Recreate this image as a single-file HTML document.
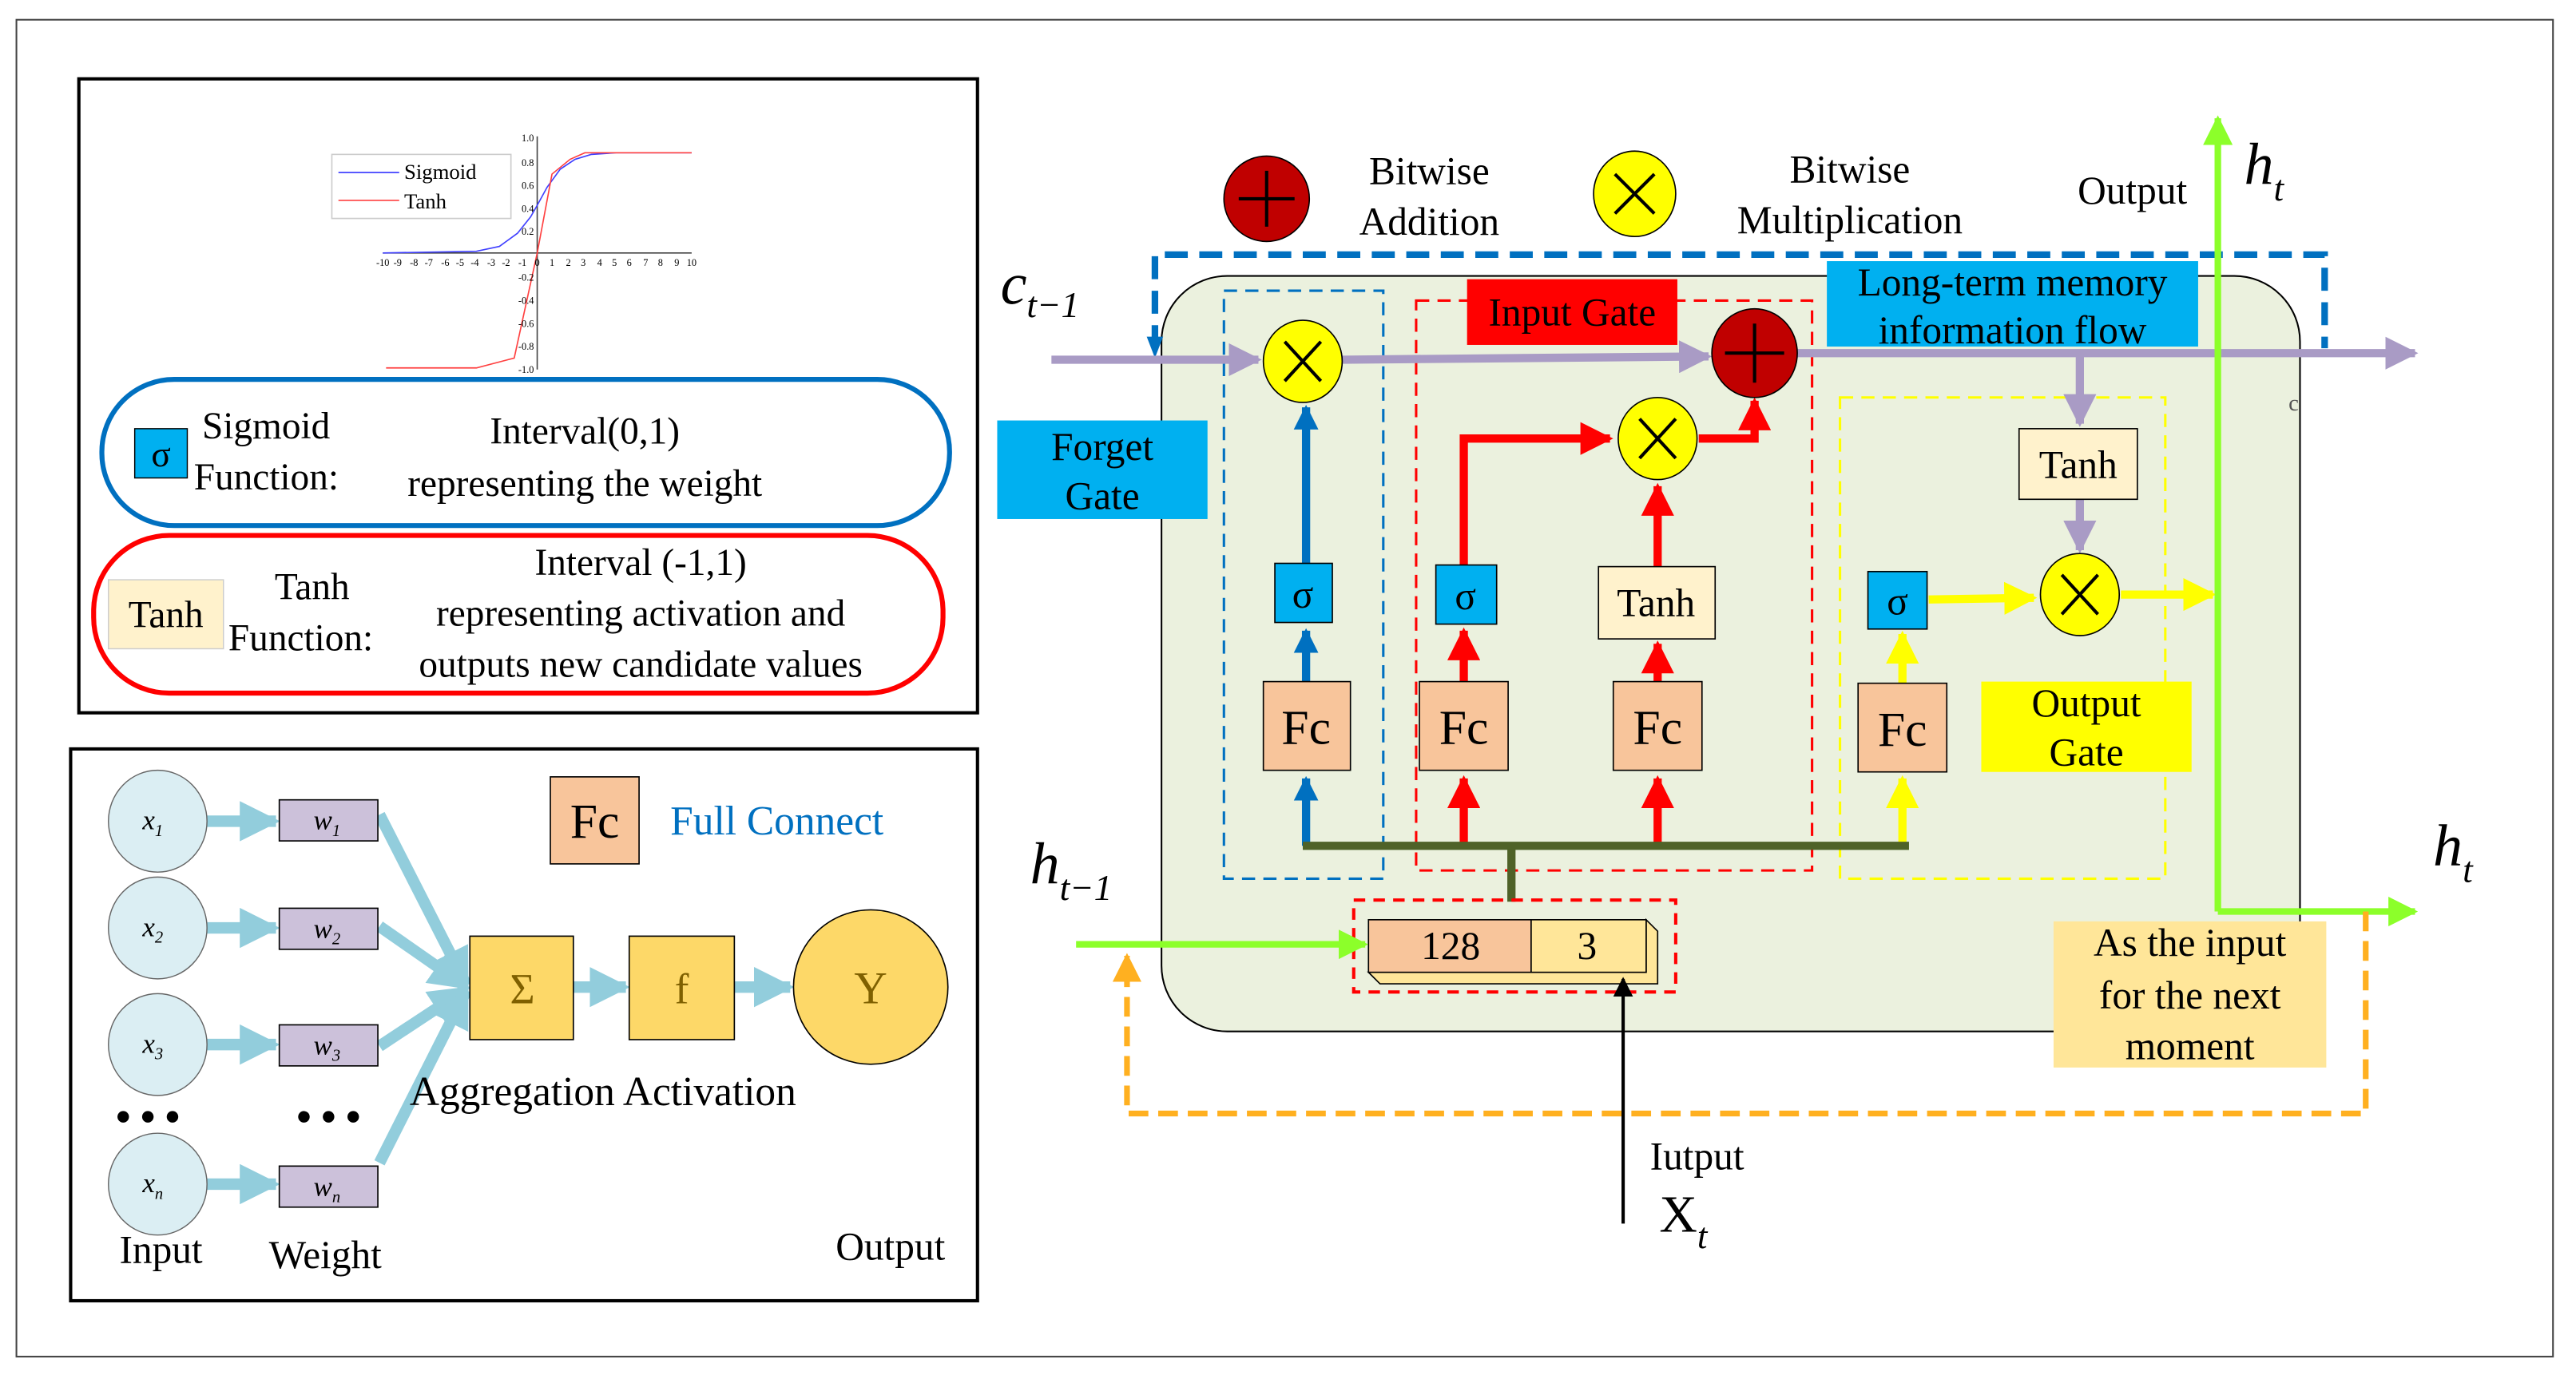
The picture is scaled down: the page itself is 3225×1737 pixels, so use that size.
<!DOCTYPE html>
<html><head><meta charset="utf-8"><style>
html,body{margin:0;padding:0;background:#fff}
svg{display:block}
text{font-family:"Liberation Serif",serif;fill:#000}
</style></head><body>
<svg width="3225" height="1737" viewBox="0 0 1568 844.5" xmlns="http://www.w3.org/2000/svg">
<defs>
<marker id="ar" viewBox="0 0 10 10" refX="9" refY="5" markerWidth="4" markerHeight="4" orient="auto" markerUnits="strokeWidth"><path d="M0,0L10,5L0,10z" fill="#ff0000"/></marker>
<marker id="ay" viewBox="0 0 10 10" refX="9" refY="5" markerWidth="4" markerHeight="4" orient="auto" markerUnits="strokeWidth"><path d="M0,0L10,5L0,10z" fill="#ffff00"/></marker>
<marker id="ap" viewBox="0 0 10 10" refX="9" refY="5" markerWidth="4" markerHeight="4" orient="auto" markerUnits="strokeWidth"><path d="M0,0L10,5L0,10z" fill="#a99bc5"/></marker>
<marker id="ag" viewBox="0 0 10 10" refX="9" refY="5" markerWidth="4.5" markerHeight="4.5" orient="auto" markerUnits="strokeWidth"><path d="M0,0L10,5L0,10z" fill="#8cff2a"/></marker>
<marker id="ao" viewBox="0 0 10 10" refX="9" refY="5" markerWidth="5" markerHeight="5" orient="auto" markerUnits="strokeWidth"><path d="M0,0L10,5L0,10z" fill="#ffb020"/></marker>
<marker id="ak" viewBox="0 0 10 10" refX="9" refY="5" markerWidth="6" markerHeight="6" orient="auto" markerUnits="strokeWidth"><path d="M0,0L10,5L0,10z" fill="#000"/></marker>
<marker id="al" viewBox="0 0 10 10" refX="9" refY="5" markerWidth="3.5" markerHeight="3.5" orient="auto" markerUnits="strokeWidth"><path d="M0,0L10,5L0,10z" fill="#92cddc"/></marker>
<marker id="ab2" viewBox="0 0 10 10" refX="9" refY="5" markerWidth="3" markerHeight="3" orient="auto" markerUnits="strokeWidth"><path d="M0,0L10,5L0,10z" fill="#0070c0"/></marker>
</defs>
<rect x="10" y="12" width="1544" height="814" fill="none" stroke="#444" stroke-width="1"/>

<rect x="48" y="48" width="547" height="386" fill="#fff" stroke="#000" stroke-width="2"/>
<g stroke-width="0.8" fill="none">
<rect x="202" y="94" width="109" height="39" stroke="#ccc"/>
<line x1="206" y1="105" x2="243" y2="105" stroke="#4040ff"/>
<line x1="206" y1="122" x2="243" y2="122" stroke="#ff4040"/>
<line x1="233" y1="154" x2="421" y2="154" stroke="#444"/>
<line x1="327" y1="83" x2="327" y2="225" stroke="#444"/>
<polyline points="233,154 290,153 304,150 315,142 323,132 327,125 333,114 341,103 350,97 360,94 375,93 421,93" stroke="#4040ff"/>
<polyline points="235,224 290,224 313,218 327,154 336,106 347,97 356,93 421,93" stroke="#ff4040"/>
</g>
<text x="246" y="109" font-size="13">Sigmoid</text>
<text x="246" y="127" font-size="13">Tanh</text>
<g font-size="6" fill="#555" text-anchor="middle">
<text x="233" y="162">-10</text><text x="242" y="162">-9</text><text x="252" y="162">-8</text><text x="261" y="162">-7</text><text x="271" y="162">-6</text><text x="280" y="162">-5</text><text x="289" y="162">-4</text><text x="299" y="162">-3</text><text x="308" y="162">-2</text><text x="318" y="162">-1</text><text x="327" y="162">0</text><text x="336" y="162">1</text><text x="346" y="162">2</text><text x="355" y="162">3</text><text x="365" y="162">4</text><text x="374" y="162">5</text><text x="383" y="162">6</text><text x="393" y="162">7</text><text x="402" y="162">8</text><text x="412" y="162">9</text><text x="421" y="162">10</text>
</g>
<g font-size="6" fill="#555" text-anchor="end">
<text x="325" y="86">1.0</text><text x="325" y="101">0.8</text><text x="325" y="115">0.6</text><text x="325" y="129">0.4</text><text x="325" y="143">0.2</text><text x="325" y="171">-0.2</text><text x="325" y="185">-0.4</text><text x="325" y="199">-0.6</text><text x="325" y="213">-0.8</text><text x="325" y="227">-1.0</text></g>

<rect x="62" y="231" width="516" height="89" rx="44" fill="none" stroke="#0070c0" stroke-width="3"/>
<rect x="82" y="261" width="32" height="30" fill="#00b0f0" stroke="#000" stroke-width="0.7"/>
<text x="98" y="284" font-size="22" text-anchor="middle">σ</text>
<text x="123" y="267" font-size="23">Sigmoid</text>
<text x="118" y="298" font-size="23">Function:</text>
<text x="356" y="270" font-size="23" text-anchor="middle">Interval(0,1)</text>
<text x="356" y="302" font-size="23" text-anchor="middle">representing the weight</text>

<rect x="57" y="326" width="517" height="96" rx="46" fill="none" stroke="#ff0000" stroke-width="3"/>
<rect x="66" y="353" width="70" height="42" fill="#fff2cc" stroke="#ccc" stroke-width="0.7"/>
<text x="101" y="382" font-size="23" text-anchor="middle">Tanh</text>
<text x="190" y="365" font-size="23" text-anchor="middle">Tanh</text>
<text x="139" y="396" font-size="23">Function:</text>
<text x="390" y="350" font-size="23" text-anchor="middle">Interval (-1,1)</text>
<text x="390" y="381" font-size="23" text-anchor="middle">representing activation and</text>
<text x="390" y="412" font-size="23" text-anchor="middle">outputs new candidate values</text>

<rect x="43" y="456" width="552" height="336" fill="#fff" stroke="#000" stroke-width="2"/>
<g stroke="#92cddc" stroke-width="7" fill="none">
<line x1="126" y1="500" x2="168" y2="500" marker-end="url(#al)"/>
<line x1="126" y1="565" x2="168" y2="565" marker-end="url(#al)"/>
<line x1="126" y1="636" x2="168" y2="636" marker-end="url(#al)"/>
<line x1="126" y1="721" x2="168" y2="721" marker-end="url(#al)"/>
<line x1="231" y1="496" x2="284" y2="600" marker-end="url(#al)"/>
<line x1="231" y1="564" x2="284" y2="601" marker-end="url(#al)"/>
<line x1="231" y1="637" x2="284" y2="602" marker-end="url(#al)"/>
<line x1="231" y1="708" x2="284" y2="603" marker-end="url(#al)"/>
<line x1="349" y1="601" x2="381" y2="601" marker-end="url(#al)"/>
<line x1="447" y1="601" x2="481" y2="601" marker-end="url(#al)"/>
</g>
<g fill="#dbeef3" stroke="#666" stroke-width="0.7">
<ellipse cx="96" cy="500" rx="30" ry="31"/><ellipse cx="96" cy="565" rx="30" ry="31"/><ellipse cx="96" cy="636" rx="30" ry="31"/><ellipse cx="96" cy="721" rx="30" ry="31"/>
</g>
<g fill="#ccc1da" stroke="#000" stroke-width="0.8">
<rect x="170" y="487" width="60" height="25"/><rect x="170" y="553" width="60" height="25"/><rect x="170" y="624" width="60" height="25"/><rect x="170" y="710" width="60" height="25"/>
</g>
<g font-size="17" font-style="italic" text-anchor="middle">
<text x="93" y="505">x<tspan font-size="10" dy="4">1</tspan></text>
<text x="93" y="570">x<tspan font-size="10" dy="4">2</tspan></text>
<text x="93" y="641">x<tspan font-size="10" dy="4">3</tspan></text>
<text x="93" y="726">x<tspan font-size="10" dy="4">n</tspan></text>
<text x="199" y="505">w<tspan font-size="10" dy="4">1</tspan></text>
<text x="199" y="571">w<tspan font-size="10" dy="4">2</tspan></text>
<text x="199" y="642">w<tspan font-size="10" dy="4">3</tspan></text>
<text x="199" y="728">w<tspan font-size="10" dy="4">n</tspan></text>
</g>
<g fill="#000"><circle cx="75" cy="680" r="3.5"/><circle cx="90" cy="680" r="3.5"/><circle cx="105" cy="680" r="3.5"/><circle cx="185" cy="680" r="3.5"/><circle cx="200" cy="680" r="3.5"/><circle cx="215" cy="680" r="3.5"/></g>
<rect x="286" y="570" width="63" height="63" fill="#fdd868" stroke="#000" stroke-width="0.8"/>
<rect x="383" y="570" width="64" height="63" fill="#fdd868" stroke="#000" stroke-width="0.8"/>
<ellipse cx="530" cy="601" rx="47" ry="47" fill="#fdd868" stroke="#000" stroke-width="0.8"/>
<text x="318" y="611" font-size="26" text-anchor="middle" style="fill:#7f6000">Σ</text>
<text x="415" y="611" font-size="26" text-anchor="middle" style="fill:#7f6000">f</text>
<text x="530" y="611" font-size="28" text-anchor="middle" style="fill:#7f6000">Y</text>
<rect x="335" y="473" width="54" height="53" fill="#f8c59b" stroke="#000" stroke-width="0.8"/>
<text x="362" y="510" font-size="30" text-anchor="middle">Fc</text>
<text x="408" y="508" font-size="25" style="fill:#0070c0">Full Connect</text>
<text x="367" y="673" font-size="25" text-anchor="middle">Aggregation Activation</text>
<text x="98" y="769" font-size="24" text-anchor="middle">Input</text>
<text x="198" y="772" font-size="24" text-anchor="middle">Weight</text>
<text x="542" y="767" font-size="24" text-anchor="middle">Output</text>

<rect x="707" y="168" width="693" height="460" rx="40" fill="#ebf1de" stroke="#000" stroke-width="1"/>
<path d="M703,212 V155 H1415 V212" fill="none" stroke="#0070c0" stroke-width="4" stroke-dasharray="14,7"/>
<path d="M703,205 L698,205 L703,218 L708,205z" fill="#0070c0"/>
<circle cx="771" cy="121" r="26" fill="#c00000" stroke="#000" stroke-width="0.8"/>
<path d="M771,104V138M754,121H788" stroke="#000" stroke-width="2"/>
<text x="870" y="112" font-size="24" text-anchor="middle">Bitwise</text>
<text x="870" y="143" font-size="24" text-anchor="middle">Addition</text>
<ellipse cx="995" cy="118" rx="25" ry="26" fill="#ffff00" stroke="#000" stroke-width="0.8"/>
<path d="M983,106L1007,130M1007,106L983,130" stroke="#000" stroke-width="2"/>
<text x="1126" y="111" font-size="24" text-anchor="middle">Bitwise</text>
<text x="1126" y="142" font-size="24" text-anchor="middle">Multiplication</text>
<text x="1298" y="124" font-size="24" text-anchor="middle">Output</text>
<text x="1366" y="112" font-size="36" font-style="italic">h<tspan font-size="22" dy="10">t</tspan></text>
<text x="609" y="185" font-size="36" font-style="italic">c<tspan font-size="22" dy="8">t−1</tspan></text>
<text x="1481" y="527" font-size="36" font-style="italic">h<tspan font-size="22" dy="10">t</tspan></text>
<text x="627" y="538" font-size="36" font-style="italic">h<tspan font-size="22" dy="10">t−1</tspan></text>

<rect x="745" y="177" width="97" height="358" fill="none" stroke="#0070c0" stroke-width="1.5" stroke-dasharray="8,5"/>
<rect x="862" y="183" width="241" height="347" fill="none" stroke="#ff0000" stroke-width="1.5" stroke-dasharray="8,5"/>
<rect x="1120" y="242" width="198" height="293" fill="none" stroke="#ffff00" stroke-width="1.5" stroke-dasharray="8,5"/>

<line x1="640" y1="219" x2="766" y2="219" stroke="#a99bc5" stroke-width="5" marker-end="url(#ap)"/>
<line x1="817" y1="219" x2="1040" y2="217" stroke="#a99bc5" stroke-width="5" marker-end="url(#ap)"/>
<line x1="1094" y1="215" x2="1470" y2="215" stroke="#a99bc5" stroke-width="5" marker-end="url(#ap)"/>
<line x1="1266" y1="215" x2="1266" y2="258" stroke="#a99bc5" stroke-width="5" marker-end="url(#ap)"/>
<line x1="1266" y1="304" x2="1266" y2="335" stroke="#a99bc5" stroke-width="5" marker-end="url(#ap)"/>

<rect x="607" y="256" width="128" height="60" fill="#00b0f0"/>
<text x="671" y="280" font-size="24" text-anchor="middle">Forget</text>
<text x="671" y="310" font-size="24" text-anchor="middle">Gate</text>
<rect x="893" y="170" width="128" height="40" fill="#ff0000"/>
<text x="957" y="198" font-size="24" text-anchor="middle">Input Gate</text>
<rect x="1112" y="159" width="226" height="52" fill="#00b0f0"/>
<text x="1225" y="180" font-size="24" text-anchor="middle">Long-term memory</text>
<text x="1225" y="209" font-size="24" text-anchor="middle">information flow</text>

<line x1="795" y1="515" x2="795" y2="474" stroke="#0070c0" stroke-width="5" marker-end="url(#ab2)"/>
<line x1="795" y1="415" x2="795" y2="384" stroke="#0070c0" stroke-width="5" marker-end="url(#ab2)"/>
<line x1="795" y1="343" x2="795" y2="248" stroke="#0070c0" stroke-width="5" marker-end="url(#ab2)"/>
<line x1="891" y1="515" x2="891" y2="474" stroke="#ff0000" stroke-width="5" marker-end="url(#ar)"/>
<line x1="891" y1="415" x2="891" y2="384" stroke="#ff0000" stroke-width="5" marker-end="url(#ar)"/>
<path d="M891,344 V267 H980" fill="none" stroke="#ff0000" stroke-width="5" marker-end="url(#ar)"/>
<line x1="1009" y1="515" x2="1009" y2="474" stroke="#ff0000" stroke-width="5" marker-end="url(#ar)"/>
<line x1="1009" y1="415" x2="1009" y2="392" stroke="#ff0000" stroke-width="5" marker-end="url(#ar)"/>
<line x1="1009" y1="345" x2="1009" y2="296" stroke="#ff0000" stroke-width="5" marker-end="url(#ar)"/>
<path d="M1034,267 H1068 V244" fill="none" stroke="#ff0000" stroke-width="5" marker-end="url(#ar)"/>
<line x1="1158" y1="515" x2="1158" y2="474" stroke="#ffff00" stroke-width="5" marker-end="url(#ay)"/>
<line x1="1158" y1="416" x2="1158" y2="386" stroke="#ffff00" stroke-width="5" marker-end="url(#ay)"/>
<line x1="1174" y1="365" x2="1238" y2="364" stroke="#ffff00" stroke-width="5" marker-end="url(#ay)"/>
<line x1="1291" y1="362" x2="1347" y2="362" stroke="#ffff00" stroke-width="5" marker-end="url(#ay)"/>

<line x1="793" y1="515" x2="1162" y2="515" stroke="#4f6228" stroke-width="5"/>
<line x1="920" y1="515" x2="920" y2="549" stroke="#4f6228" stroke-width="5"/>

<ellipse cx="793" cy="220" rx="24" ry="25" fill="#ffff00" stroke="#000" stroke-width="0.8"/>
<path d="M782,208L804,232M804,208L782,232" stroke="#000" stroke-width="2"/>
<ellipse cx="1009" cy="267" rx="24" ry="25" fill="#ffff00" stroke="#000" stroke-width="0.8"/>
<path d="M998,255L1020,279M1020,255L998,279" stroke="#000" stroke-width="2"/>
<ellipse cx="1266" cy="362" rx="24" ry="25" fill="#ffff00" stroke="#000" stroke-width="0.8"/>
<path d="M1255,350L1277,374M1277,350L1255,374" stroke="#000" stroke-width="2"/>
<ellipse cx="1068" cy="215" rx="26" ry="27" fill="#c00000" stroke="#000" stroke-width="0.8"/>
<path d="M1068,197V233M1050,215H1086" stroke="#000" stroke-width="2"/>

<g fill="#00b0f0" stroke="#000" stroke-width="0.8">
<rect x="776" y="343" width="35" height="36"/><rect x="874" y="344" width="37" height="36"/><rect x="1137" y="348" width="36" height="35"/>
</g>
<g font-size="24" text-anchor="middle"><text x="793" y="370">σ</text><text x="892" y="371">σ</text><text x="1155" y="374">σ</text></g>
<rect x="973" y="345" width="71" height="44" fill="#fff2cc" stroke="#000" stroke-width="0.8"/>
<text x="1008" y="375" font-size="24" text-anchor="middle">Tanh</text>
<rect x="1229" y="261" width="72" height="43" fill="#fff2cc" stroke="#000" stroke-width="0.8"/>
<text x="1265" y="291" font-size="24" text-anchor="middle">Tanh</text>
<g fill="#f8c59b" stroke="#000" stroke-width="0.8">
<rect x="769" y="415" width="53" height="54"/><rect x="864" y="415" width="54" height="54"/><rect x="982" y="415" width="54" height="54"/><rect x="1131" y="416" width="54" height="54"/>
</g>
<g font-size="30" text-anchor="middle"><text x="795" y="453">Fc</text><text x="891" y="453">Fc</text><text x="1009" y="453">Fc</text><text x="1158" y="454">Fc</text></g>
<rect x="1206" y="415" width="128" height="55" fill="#ffff00"/>
<text x="1270" y="436" font-size="24" text-anchor="middle">Output</text>
<text x="1270" y="466" font-size="24" text-anchor="middle">Gate</text>
<text x="1393" y="250" font-size="14" style="fill:#555">c</text>

<rect x="824" y="548" width="196" height="56" fill="none" stroke="#ff0000" stroke-width="2" stroke-dasharray="7,5"/>
<path d="M833,592 L840,599 H1009 V567 L1002,560 V592 Z" fill="#ffe699" stroke="#000" stroke-width="0.8"/>
<rect x="833" y="560" width="99" height="32" fill="#f8c59b" stroke="#000" stroke-width="0.8"/>
<rect x="932" y="560" width="70" height="32" fill="#ffe699" stroke="#000" stroke-width="0.8"/>
<text x="883" y="584" font-size="24" text-anchor="middle">128</text>
<text x="966" y="584" font-size="24" text-anchor="middle">3</text>
<line x1="988" y1="745" x2="988" y2="596" stroke="#000" stroke-width="2" marker-end="url(#ak)"/>
<text x="1033" y="712" font-size="24" text-anchor="middle">Iutput</text>
<text x="1010" y="750" font-size="32">X<tspan font-size="22" font-style="italic" dy="10">t</tspan></text>

<line x1="655" y1="575" x2="831" y2="575" stroke="#8cff2a" stroke-width="4" marker-end="url(#ag)"/>
<line x1="1350" y1="555" x2="1350" y2="72" stroke="#8cff2a" stroke-width="4" marker-end="url(#ag)"/>
<line x1="1350" y1="555" x2="1470" y2="555" stroke="#8cff2a" stroke-width="4" marker-end="url(#ag)"/>
<path d="M1440,555 V678 H686 V582" fill="none" stroke="#ffb020" stroke-width="3.5" stroke-dasharray="12,6" marker-end="url(#ao)"/>
<rect x="1250" y="561" width="166" height="89" fill="#ffe699"/>
<text x="1333" y="582" font-size="24" text-anchor="middle">As the input</text>
<text x="1333" y="614" font-size="24" text-anchor="middle">for the next</text>
<text x="1333" y="645" font-size="24" text-anchor="middle">moment</text>
</svg>
</body></html>
